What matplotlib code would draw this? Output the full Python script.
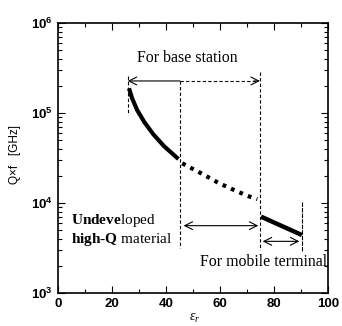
import numpy as np
import matplotlib
matplotlib.use("Agg")
import matplotlib.pyplot as plt

plt.rcParams['font.family'] = ['Liberation Sans', 'DejaVu Sans']
plt.rcParams['mathtext.fontset'] = 'custom'
plt.rcParams['mathtext.rm'] = 'Liberation Serif'
plt.rcParams['mathtext.bf'] = 'Liberation Serif:bold'
plt.rcParams['mathtext.it'] = 'Liberation Serif:italic'

# base station curve (solid part)
base_x = [26.3, 27.4, 29.3, 32.0, 35.3, 39.3, 44.6]
base_q = [1.88e5, 1.47e5, 1.08e5, 7.9e4, 5.8e4, 4.27e4, 3.08e4]
# undeveloped range (dotted)
gap_x = [46.0, 53.9, 59.3, 64.6, 70.2, 73.8]
gap_q = [2.76e4, 2.07e4, 1.68e4, 1.42e4, 1.2e4, 1.1e4]
# mobile terminal
mob_x = [75.2, 90.3]
mob_q = [7.05e3, 4.41e3]

fig = plt.figure(figsize=(3.42, 3.26), dpi=100)
ax = fig.add_axes([58 / 342, 1 - 293 / 326, 270 / 342, 270 / 326])

ax.plot(base_x, base_q, color='black', lw=3, solid_capstyle='butt', solid_joinstyle='round')
ax.plot(gap_x, gap_q, color='black', lw=3, linestyle=(0, (0.9, 1.3)))
ax.plot(mob_x, mob_q, color='black', lw=3.2, solid_capstyle='butt')

# guide lines
ax.plot([25.8, 25.8], [2.6e5, 9.5e4], color='black', lw=0.8, ls=(0, (3, 2)))
ax.plot([45.2, 45.2], [2.27e5, 3.16e3], color='black', lw=0.8, ls=(0, (3, 2)))
ax.plot([74.8, 74.8], [2.88e5, 3.0e3], color='black', lw=0.8, ls=(0, (3, 2)))
ax.plot([90.2, 90.2], [1.02e4, 2.85e3], color='black', lw=0.8, ls=(0, (4, 1)))

ya = 2.27e5
ax.annotate('', xy=(25.8, ya), xytext=(45.2, ya),
            arrowprops=dict(arrowstyle='->', lw=0.8, shrinkA=0, shrinkB=0, mutation_scale=14))
ax.plot([45.2, 73.5], [ya, ya], color='black', lw=0.8, ls=(0, (3, 2)))
ax.annotate('', xy=(74.8, ya), xytext=(72.5, ya),
            arrowprops=dict(arrowstyle='->', lw=0.8, shrinkA=0, shrinkB=0, mutation_scale=14))

ax.annotate('', xy=(46.5, 5.6e3), xytext=(74.2, 5.6e3),
            arrowprops=dict(arrowstyle='<->', lw=0.8, shrinkA=0, shrinkB=0, mutation_scale=14))
ax.annotate('', xy=(75.8, 3.75e3), xytext=(89.4, 3.75e3),
            arrowprops=dict(arrowstyle='<->', lw=0.8, shrinkA=0, shrinkB=0, mutation_scale=14))

ax.text(47.8, 4.1e5, 'For base station', family='Liberation Serif', fontsize=11.4,
        ha='center', va='center')
ax.text(76.3, 2.2e3, 'For mobile terminal', family='Liberation Serif', fontsize=11.4,
        ha='center', va='center')
ax.text(4.8, 6.4e3, r'$\mathbf{Undeve}\mathrm{loped}$', fontsize=11, ha='left', va='center')
ax.text(4.8, 3.9e3, r'$\mathbf{high\text{-}Q}\ \mathrm{material}$', fontsize=11,
        ha='left', va='center')

ax.set_xlim(0, 100)
ax.set_yscale('log')
ax.set_ylim(1e3, 1e6)
ax.set_xticks(np.arange(0, 101, 20))
ax.set_xticks(np.arange(10, 100, 20), minor=True)
ax.tick_params(which='both', direction='in', top=True, right=True, labelsize=9.5, width=0.8)
ax.tick_params(which='major', length=5)
ax.tick_params(which='minor', length=3)
for lab in ax.get_xticklabels() + ax.get_yticklabels():
    lab.set_fontweight('bold')
for s in ax.spines.values():
    s.set_linewidth(1.2)

fig.text(15 / 342, 1 - 155 / 326, 'Q\u00d7f   [GHz]', rotation=90, fontsize=8.5,
         ha='center', va='center')
fig.text(195 / 342, 1 - 318 / 326, r'$\varepsilon_r$', fontsize=10, ha='center', va='center')

fig.savefig('out.png', dpi=100)
